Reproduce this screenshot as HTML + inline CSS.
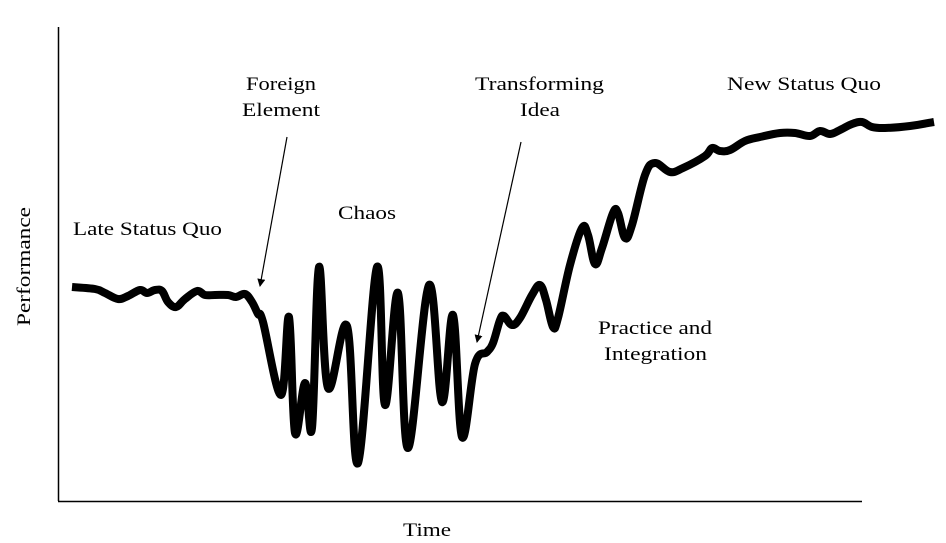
<!DOCTYPE html>
<html><head><meta charset="utf-8"><style>
html,body{margin:0;padding:0;background:#fff;}
svg{display:block;}
text{font-family:"Liberation Serif",serif;font-size:19px;fill:#000;}
</style></head><body>
<svg width="946" height="543" viewBox="0 0 946 543">
<defs><marker id="ah" markerWidth="8" markerHeight="8" refX="7" refY="4" orient="auto" markerUnits="userSpaceOnUse"><path d="M0,0 L8,4 L0,8 Z" fill="#000"/></marker></defs>
<line x1="58.5" y1="27" x2="58.5" y2="501" stroke="#000" stroke-width="1.5"/>
<line x1="58" y1="501.5" x2="862" y2="501.5" stroke="#000" stroke-width="1.5"/>
<path id="curve" fill="none" stroke="#000" stroke-width="8" stroke-linejoin="round" stroke-linecap="butt"/>
<line x1="287" y1="137" x2="260" y2="286" stroke="#000" stroke-width="1.2" marker-end="url(#ah)"/>
<line x1="521" y1="142" x2="477" y2="342" stroke="#000" stroke-width="1.2" marker-end="url(#ah)"/>
<text x="73" y="235" textLength="149" lengthAdjust="spacingAndGlyphs">Late Status Quo</text>
<text x="246" y="90" textLength="70" lengthAdjust="spacingAndGlyphs">Foreign</text>
<text x="242" y="116" textLength="78" lengthAdjust="spacingAndGlyphs">Element</text>
<text x="338" y="219" textLength="58" lengthAdjust="spacingAndGlyphs">Chaos</text>
<text x="475" y="90" textLength="129" lengthAdjust="spacingAndGlyphs">Transforming</text>
<text x="520" y="116" textLength="40" lengthAdjust="spacingAndGlyphs">Idea</text>
<text x="727" y="90" textLength="154" lengthAdjust="spacingAndGlyphs">New Status Quo</text>
<text x="598" y="334" textLength="114" lengthAdjust="spacingAndGlyphs">Practice and</text>
<text x="604" y="360" textLength="103" lengthAdjust="spacingAndGlyphs">Integration</text>
<text x="403" y="536" textLength="48" lengthAdjust="spacingAndGlyphs">Time</text>
<text transform="translate(30,326) rotate(-90)" textLength="119" lengthAdjust="spacingAndGlyphs">Performance</text>
</svg>
<script>
var p=[[72,287],[95,289],[105,293],[118,299],[128,296],[140,290],[147,293],[155,290],[162,291],[168,302],[176,307],[185,299],[197,291],[205,295],[215,295],[228,295],[236,297],[245,294],[252,302],[258,314],[263,322],[281,395],[289,317],[295,433],[305,383],[312,428],[319,267],[328,388],[347,326],[358,463],[377,267],[385,405],[398,293],[408,448],[429,285],[442,402],[453,315],[462,437],[475,364],[487,352],[493,343],[500,320],[504,316],[512,325],[520,318],[532,295],[540,285],[546,300],[553,327],[558,318],[570,265],[582,228],[588,235],[595,264],[602,248],[613,213],[618,213],[625,238],[632,225],[645,175],[655,163],[670,172],[683,168],[705,156],[712,148],[720,151],[730,150],[745,141],[760,137],[780,133],[795,133],[810,136],[820,131],[830,134],[840,130],[852,124],[862,122],[872,127],[885,128],[910,126],[934,122]];
var d="M"+p[0][0]+","+p[0][1];
for(var i=0;i<p.length-1;i++){var a=p[i-1]||p[i],b=p[i],c=p[i+1],e=p[i+2]||c;
var t=0.18;
d+=" C"+(b[0]+(c[0]-a[0])*t)+","+(b[1]+(c[1]-a[1])*t)+" "+(c[0]-(e[0]-b[0])*t)+","+(c[1]-(e[1]-b[1])*t)+" "+c[0]+","+c[1];}
document.getElementById("curve").setAttribute("d",d);
</script>
</body></html>
